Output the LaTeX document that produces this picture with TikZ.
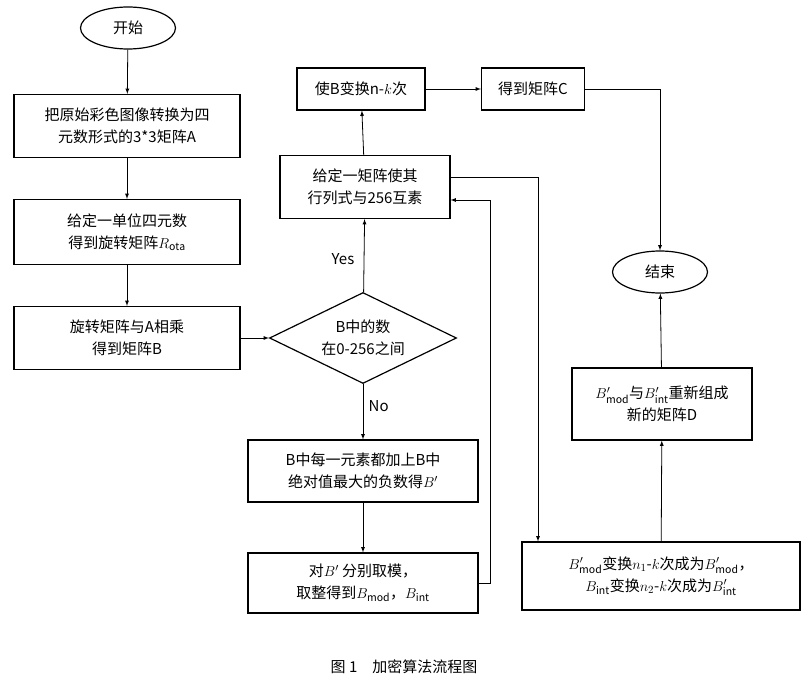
\documentclass[tikz,border=0pt]{standalone}
\usepackage{fontspec}
\setmainfont{Noto Sans CJK SC}
\usetikzlibrary{shapes.geometric}
\tikzset{
  box/.style={draw, line width=1.2pt, align=center, inner sep=2pt},
  term/.style={draw, ellipse, line width=1.2pt, minimum width=95pt, minimum height=42pt},
  choice/.style={draw, diamond, aspect=2.05, line width=1.2pt, align=center, inner sep=1pt},
  line/.style={line width=0.8pt},
  arrow/.style={line, -latex}
}
\begin{document}
\begin{tikzpicture}[x=1pt, y=-1pt, font=\fontsize{15}{22}\selectfont]
\useasboundingbox (0,0) rectangle (808,687);

% === Left column ===
\node[term] (Start) at (128,28) {开始};
\node[box, minimum width=226pt, minimum height=63pt] (ToMatA) at (127,126)
  {把原始彩色图像转换为四\\元数形式的3*3矩阵A};
\node[box, minimum width=226pt, minimum height=65pt] (Rota) at (127,232)
  {给定一单位四元数\\得到旋转矩阵$R_{\mathrm{ota}}$};
\node[box, minimum width=226pt, minimum height=63pt] (MatB) at (127,338)
  {旋转矩阵与A相乘\\得到矩阵B};

% === Middle column ===
\node[choice, minimum width=187pt, minimum height=91pt] (Range) at (363,338)
  {B中的数\\在0-256之间};
\node[box, minimum width=170pt, minimum height=63pt] (Det) at (365,187)
  {给定一矩阵使其\\行列式与256互素};
\node[box, minimum width=128pt, minimum height=42pt] (Trans) at (361,89)
  {使B变换n-$k$次};
\node[box, minimum width=230pt, minimum height=62pt] (Shift) at (363,471)
  {B中每一元素都加上B中\\绝对值最大的负数得$B'$};
\node[box, minimum width=230pt, minimum height=60pt] (Split) at (363,583)
  {对$B'$ 分别取模，\\取整得到$B_{\mathrm{mod}}$，$B_{\mathrm{int}}$};

% === Right column ===
\node[box, minimum width=103pt, minimum height=42pt] (MatC) at (533,89) {得到矩阵C};
\node[term] (End) at (660,272) {结束};
\node[box, minimum width=180pt, minimum height=72pt] (MatD) at (662,404)
  {$B'_{\mathrm{mod}}$与$B'_{\mathrm{int}}$重新组成\\新的矩阵D};
\node[box, minimum width=278pt, minimum height=68pt] (Perm) at (661,576)
  {$B'_{\mathrm{mod}}$变换$n_1$-$k$次成为$B'_{\mathrm{mod}}$，\\$B_{\mathrm{int}}$变换$n_2$-$k$次成为$B'_{\mathrm{int}}$};

\coordinate (DetIn) at (Det.east |- 0,200);
\coordinate (DetOut) at (Det.east |- 0,177);

% === Connections ===
\draw[arrow] (Start) -- (ToMatA);
\draw[arrow] (ToMatA) -- (Rota);
\draw[arrow] (Rota) -- (MatB);
\draw[arrow] (MatB) -- (Range);
\draw[arrow] (Range) -- node[pos=0.45, left=6pt]{Yes} (Det);
\draw[arrow] (Det) -- (Trans);
\draw[arrow] (Trans) -- (MatC);
\draw[arrow] (MatC.east) -| (End.north);
\draw[arrow] (Range) -- node[pos=0.4, right=2pt]{No} (Shift);
\draw[arrow] (Shift) -- (Split);
\draw[arrow] (Split.east) -- ++(12,0) |- (DetIn);
\draw[arrow] (DetOut) -| (Perm.north -| 538,0);
\draw[arrow] (Perm) -- (MatD);
\draw[arrow] (MatD) -- (End);

\node (Caption) at (404,667) {图 1\quad 加密算法流程图};
\end{tikzpicture}
\end{document}
